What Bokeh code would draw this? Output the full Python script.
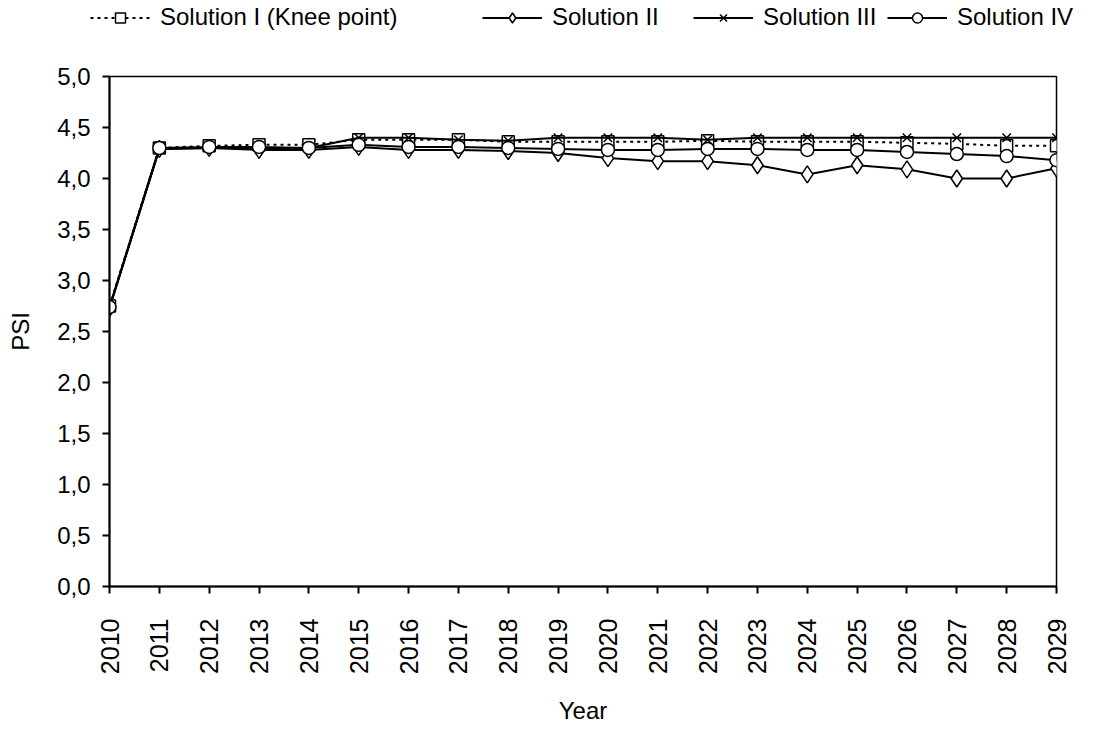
import math
from bokeh.plotting import figure
from bokeh.layouts import column, row
from bokeh.models import Range1d, FixedTicker, Legend, LegendItem
from bokeh.embed import file_html
from bokeh.resources import INLINE

# ---- data ----
years = list(range(2010, 2030))
sol1 = [2.75, 4.30, 4.32, 4.33, 4.33, 4.38, 4.38, 4.38, 4.36, 4.36,
        4.36, 4.36, 4.37, 4.36, 4.36, 4.36, 4.35, 4.34, 4.32, 4.32]
sol2 = [2.73, 4.29, 4.30, 4.28, 4.28, 4.31, 4.28, 4.28, 4.27, 4.25,
        4.20, 4.17, 4.17, 4.13, 4.04, 4.13, 4.09, 4.00, 4.00, 4.10]
sol3 = [2.73, 4.29, 4.30, 4.30, 4.30, 4.40, 4.40, 4.38, 4.37, 4.40,
        4.40, 4.40, 4.38, 4.40, 4.40, 4.40, 4.40, 4.40, 4.40, 4.40]
sol4 = [2.74, 4.30, 4.31, 4.31, 4.30, 4.33, 4.31, 4.31, 4.30, 4.29,
        4.28, 4.28, 4.29, 4.29, 4.28, 4.28, 4.26, 4.24, 4.22, 4.18]
series_names = ["Solution I (Knee point)", "Solution II", "Solution III", "Solution IV"]
y_ticks = [0.0, 0.5, 1.0, 1.5, 2.0, 2.5, 3.0, 3.5, 4.0, 4.5, 5.0]
y_tick_labels = ["0,0", "0,5", "1,0", "1,5", "2,0", "2,5", "3,0", "3,5", "4,0", "4,5", "5,0"]

FONT = "Liberation Sans"
all_series = [sol1, sol2, sol3, sol4]

styles = [
    dict(dash="3 4", marker="square", size=12),
    dict(dash="solid", marker="diamond", size=17),
    dict(dash="solid", marker="x", size=12),
    dict(dash="solid", marker="circle", size=13),
]
legend_x = [90, 482, 693, 887]   # screen px of each legend entry in the strip

# ---- main chart ----
p = figure(width=1080, height=694, output_backend="svg", toolbar_location=None,
           x_range=Range1d(2010, 2029), y_range=Range1d(0, 5),
           min_border_left=109, min_border_right=24, min_border_top=43, min_border_bottom=135)

p.xgrid.visible = False
p.ygrid.visible = False
p.outline_line_color = "black"
p.outline_line_width = 1.5
p.background_fill_color = "white"
p.border_fill_color = "white"

for ax in (p.xaxis[0], p.yaxis[0]):
    ax.axis_line_color = "black"
    ax.axis_line_width = 2
    ax.major_tick_line_color = "black"
    ax.major_tick_line_width = 2
    ax.major_tick_out = 7
    ax.major_tick_in = 0
    ax.minor_tick_line_color = None
    ax.major_label_text_font = FONT
    ax.major_label_text_font_size = "24px"
    ax.major_label_text_color = "black"
    ax.axis_label_text_font = FONT
    ax.axis_label_text_font_size = "24px"
    ax.axis_label_text_font_style = "normal"
    ax.axis_label_text_color = "black"

p.xaxis.ticker = FixedTicker(ticks=years)
p.xaxis.major_label_orientation = math.pi / 2
p.xaxis.major_label_text_font_size = "25px"
p.xaxis.major_label_standoff = 25
p.xaxis.axis_label = "Year"
p.xaxis.axis_label_standoff = 20

p.yaxis.ticker = FixedTicker(ticks=y_ticks)
p.yaxis.major_label_overrides = dict(zip(y_ticks, y_tick_labels))
p.yaxis.major_label_standoff = 12
p.yaxis.axis_label = "PSI"
p.yaxis.axis_label_standoff = 20

for vals, st in zip(all_series, styles):
    p.line(years, vals, line_color="black", line_width=2, line_dash=st["dash"])
    p.scatter(years, vals, marker=st["marker"], size=st["size"], fill_color="white",
              line_color="black", line_width=1.5)

# ---- legend strip (separate small figure on top; its own data lies outside its view) ----
lf = figure(width=1080, height=33, output_backend="svg", toolbar_location=None,
            x_axis_type=None, y_axis_type=None, min_border=0,
            min_border_left=0, min_border_right=0, min_border_top=0, min_border_bottom=0,
            x_range=Range1d(0, 1), y_range=Range1d(0, 1))
lf.xgrid.visible = False
lf.ygrid.visible = False
lf.outline_line_color = None
lf.background_fill_color = "white"
lf.border_fill_color = "white"

for name, vals, st, lx in zip(series_names, all_series, styles, legend_x):
    lr = lf.line(years, vals, line_color="black", line_width=2, line_dash=st["dash"])
    mr = lf.scatter(years, vals, marker=st["marker"], size=st["size"], fill_color="white",
                    line_color="black", line_width=1.5)
    lg = Legend(items=[LegendItem(label=name, renderers=[lr, mr])],
                orientation="horizontal", location=(lx, 2))
    lg.label_text_font = FONT
    lg.label_text_font_size = "24px"
    lg.label_text_color = "black"
    lg.glyph_width = 60
    lg.glyph_height = 25
    lg.label_standoff = 10
    lg.padding = 0
    lg.margin = 0
    lg.border_line_alpha = 0
    lg.background_fill_alpha = 0
    lf.add_layout(lg, "center")

layout = column(row(lf), p, spacing=0)
open("out.html", "w").write(file_html(layout, INLINE))
